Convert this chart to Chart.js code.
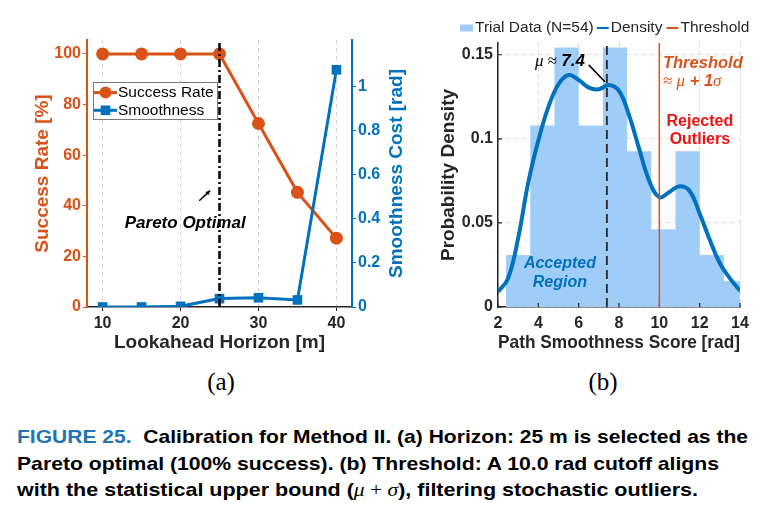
<!DOCTYPE html>
<html>
<head>
<meta charset="utf-8">
<title>Figure 25</title>
<script src="https://cdn.jsdelivr.net/npm/chart.js@4.4.1/dist/chart.umd.min.js"></script>
<style>
  body { margin: 0; background: #fff; }
  #page { position: relative; width: 773px; height: 519px; overflow: hidden; background: #fff; }
  #page canvas { position: absolute; top: 0; }
  #chartA { left: 0; }
  #chartB { left: 400px; }
  .sub { position: absolute; top: 367px; width: 60px; margin-left: -30px; text-align: center; font: 25px/30px "Liberation Serif", serif; color: #000; }
  #caption { position: absolute; left: 17px; top: 424px; font: bold 18.5px/26.5px "Liberation Sans", Arial, sans-serif; color: #000; }
  #caption div { white-space: nowrap; transform-origin: 0 0; width: max-content; }
  #caption .fig { color: #1f75b6; }
  #caption .m { font-family: "Liberation Serif", serif; font-weight: normal; }
</style>
</head>
<body>
<div id="page">
  <canvas id="chartA" width="420" height="360"></canvas>
  <canvas id="chartB" width="373" height="360"></canvas>
  <div class="sub" style="left:221px">(a)</div>
  <div class="sub" style="left:603px">(b)</div>
  <div id="caption">
    <div data-w="731"><span class="fig">FIGURE 25.</span>&nbsp; Calibration for Method II. (a) Horizon: 25 m is selected as the</div>
    <div data-w="702">Pareto optimal (100% success). (b) Threshold: A 10.0 rad cutoff aligns</div>
    <div data-w="681">with the statistical upper bound (<span class="m"><i>μ</i> + <i>σ</i></span>), filtering stochastic outliers.</div>
  </div>
</div>
<script>
// (a) horizon sweep
const horizons = [10, 15, 20, 25, 30, 35, 40];
const successRate = [100, 100, 100, 100, 72.5, 45.3, 27.2];
const smoothCost = [0, 0, 0.003, 0.038, 0.042, 0.032, 1.075];
const paretoHorizon = 25;

// (b) histogram of path smoothness (N=54, bin width 1.2)
const binEdges = [2.4, 3.6, 4.8, 6.0, 7.2, 8.4, 9.6, 10.8, 12.0, 13.2, 14.4];
const binDensity = [0.0309, 0.108, 0.1543, 0.108, 0.1543, 0.0926, 0.0463, 0.0926, 0.0309, 0.0154];
const kdeScore = [2, 2.5, 3, 3.5, 4, 4.5, 5, 5.5, 6, 6.5, 7, 7.5, 8, 8.5, 9, 9.5, 10, 10.5, 11, 11.5, 12, 12.5, 13, 13.5, 14];
const kdeDensity = [0.009, 0.017, 0.041, 0.074, 0.099, 0.119, 0.1325, 0.138, 0.135, 0.1305, 0.1295, 0.132, 0.1285, 0.114, 0.094, 0.075, 0.0653, 0.0684, 0.0718, 0.069, 0.0556, 0.040, 0.026, 0.017, 0.0097];
const meanScore = 7.4;
const thresholdScore = 10;

const ORANGE = "#D95319";
const BLUE = "#0072BD";
const HIST = "#A0CDF8";
const INK = "#262626";
const SANS = '"Liberation Sans", Arial, Helvetica, sans-serif';
const SERIF = '"Liberation Serif", "Times New Roman", serif';

const tickFont = { family: SANS, size: 16, weight: "bold" };
const titleFont = { family: SANS, size: 19, weight: "bold" };

// draw a row of differently styled text pieces
function drawRuns(ctx, runs, x, y, align) {
  let total = 0;
  runs.forEach((r) => {
    ctx.font = r.font;
    r.w = ctx.measureText(r.text).width;
    total += r.w;
  });
  let cx = align === "right" ? x - total : align === "center" ? x - total / 2 : x;
  ctx.textAlign = "left";
  ctx.textBaseline = "middle";
  runs.forEach((r) => {
    ctx.font = r.font;
    ctx.fillText(r.text, cx, y);
    cx += r.w;
  });
}

// ---------- chart (a) ----------
const paretoMarks = {
  id: "paretoMarks",
  afterDatasetsDraw(chart) {
    const { ctx, chartArea: { top, bottom }, scales: { x, y } } = chart;
    const px = x.getPixelForValue(paretoHorizon);
    ctx.save();
    ctx.strokeStyle = "#000";
    ctx.lineWidth = 2.5;
    ctx.setLineDash([8, 3, 2, 3]);
    ctx.beginPath();
    ctx.moveTo(px, bottom);
    ctx.lineTo(px, top);
    ctx.stroke();
    ctx.setLineDash([]);

    ctx.fillStyle = "#000";
    ctx.font = "italic bold 17px " + SANS;
    ctx.textAlign = "center";
    ctx.textBaseline = "middle";
    ctx.fillText("Pareto Optimal", x.getPixelForValue(20.6), y.getPixelForValue(33.2));

    // little arrow pointing at the optimum
    const x0 = x.getPixelForValue(22.4), y0 = y.getPixelForValue(42);
    const x1 = x.getPixelForValue(23.8), y1 = y.getPixelForValue(46);
    const a = Math.atan2(y1 - y0, x1 - x0);
    ctx.lineWidth = 1.5;
    ctx.beginPath();
    ctx.moveTo(x0, y0);
    ctx.lineTo(x1, y1);
    ctx.stroke();
    ctx.beginPath();
    ctx.moveTo(x1, y1);
    ctx.lineTo(x1 - 5 * Math.cos(a - 0.45), y1 - 5 * Math.sin(a - 0.45));
    ctx.lineTo(x1 - 5 * Math.cos(a + 0.45), y1 - 5 * Math.sin(a + 0.45));
    ctx.closePath();
    ctx.fill();
    ctx.restore();
  },
  afterDraw(chart) {
    const { ctx, chartArea: { left, top, bottom } } = chart;
    ctx.save();
    // right axis title, read bottom-to-top like the left one
    const r = chart.scales.y1;
    ctx.translate(r.right - 23, (top + bottom) / 2);
    ctx.rotate(-Math.PI / 2);
    ctx.fillStyle = BLUE;
    ctx.font = "bold 19px " + SANS;
    ctx.textAlign = "center";
    ctx.textBaseline = "middle";
    ctx.fillText("Smoothness Cost [rad]", 0, 0);
    ctx.restore();

    // legend box inside the axes
    const bx = left + 6, by = top + 42, bw = 124, bh = 37;
    ctx.save();
    ctx.fillStyle = "#fff";
    ctx.fillRect(bx, by, bw, bh);
    ctx.strokeStyle = "#7a7a7a";
    ctx.lineWidth = 1;
    ctx.strokeRect(bx + 0.5, by + 0.5, bw, bh);
    chart.data.datasets.forEach((ds, i) => {
      const ry = by + 10.6 + i * 17.7;
      ctx.strokeStyle = ds.borderColor;
      ctx.fillStyle = ds.borderColor;
      ctx.lineWidth = 3;
      ctx.beginPath();
      ctx.moveTo(bx + 1, ry);
      ctx.lineTo(bx + 24, ry);
      ctx.stroke();
      const mx = bx + 12.5;
      ctx.beginPath();
      if (ds.pointStyle === "rect") ctx.rect(mx - 4.8, ry - 4.8, 9.6, 9.6);
      else ctx.arc(mx, ry, 6, 0, Math.PI * 2);
      ctx.fill();
      ctx.fillStyle = "#000";
      ctx.font = "15.5px " + SANS;
      ctx.textAlign = "left";
      ctx.textBaseline = "middle";
      ctx.fillText(ds.label, bx + 25, ry);
    });
    ctx.restore();
  },
};

new Chart(document.getElementById("chartA"), {
  type: "line",
  data: {
    datasets: [
      {
        label: "Success Rate",
        data: horizons.map((h, i) => ({ x: h, y: successRate[i] })),
        yAxisID: "y",
        borderColor: ORANGE,
        backgroundColor: ORANGE,
        borderWidth: 3,
        pointStyle: "circle",
        pointRadius: 6.5,
        pointBorderWidth: 0,
        order: 2,
      },
      {
        label: "Smoothness",
        data: horizons.map((h, i) => ({ x: h, y: smoothCost[i] })),
        yAxisID: "y1",
        borderColor: BLUE,
        backgroundColor: BLUE,
        borderWidth: 3,
        pointStyle: "rect",
        pointRadius: 6.8,
        pointBorderWidth: 0,
        order: 1,
      },
    ],
  },
  plugins: [paretoMarks],
  options: {
    responsive: false,
    animation: false,
    events: [],
    devicePixelRatio: 1,
    layout: { padding: { top: 40, left: 0, right: 0, bottom: 0 } },
    plugins: { legend: { display: false }, tooltip: { enabled: false } },
    scales: {
      x: {
        type: "linear",
        min: 8,
        max: 42,
        afterFit: (s) => { s.height = 53; },
        ticks: { stepSize: 10, includeBounds: false, padding: 3, color: INK, font: tickFont },
        grid: { color: "#d4d4d4", tickColor: INK, tickLength: 4 },
        border: { color: INK, width: 1.5, dash: [4, 4] },
        title: { display: true, text: "Lookahead Horizon [m]", color: INK, font: titleFont, padding: { top: 0, bottom: 5.6 } },
      },
      y: {
        position: "left",
        min: 0,
        max: 105.5,
        afterFit: (s) => { s.width = 87; },
        ticks: { stepSize: 20, includeBounds: false, padding: 2, color: ORANGE, font: tickFont },
        grid: { drawOnChartArea: false, tickColor: ORANGE, tickLength: 4 },
        border: { color: ORANGE, width: 2 },
        title: { display: true, text: "Success Rate [%]", color: ORANGE, font: titleFont, padding: { top: 31, bottom: 0 } },
      },
      y1: {
        position: "right",
        min: 0,
        max: 1.21,
        afterFit: (s) => { s.width = 68; },
        afterBuildTicks: (s) => { s.ticks = s.ticks.filter((t) => t.value <= 1.05); },
        ticks: { stepSize: 0.2, includeBounds: false, padding: 2, color: BLUE, font: tickFont, callback: (v) => String(+v.toFixed(1)) },
        grid: { drawOnChartArea: false, tickColor: BLUE, tickLength: 4 },
        border: { color: BLUE, width: 2 },
        title: { display: false },
      },
    },
  },
});

// ---------- chart (b) ----------
const scoreMarks = {
  id: "scoreMarks",
  afterDatasetsDraw(chart) {
    const { ctx, chartArea: { top, bottom, left }, scales: { x, y } } = chart;
    ctx.save();
    // short inward tick marks on both axes
    ctx.strokeStyle = INK;
    ctx.lineWidth = 1.2;
    ctx.beginPath();
    x.ticks.forEach((t) => {
      const p = x.getPixelForValue(t.value);
      ctx.moveTo(p, bottom);
      ctx.lineTo(p, bottom - 4);
    });
    y.ticks.forEach((t) => {
      const p = y.getPixelForValue(t.value);
      ctx.moveTo(left, p);
      ctx.lineTo(left + 4, p);
    });
    ctx.stroke();

    // threshold
    const tx = x.getPixelForValue(thresholdScore);
    ctx.strokeStyle = ORANGE;
    ctx.lineWidth = 1.5;
    ctx.beginPath();
    ctx.moveTo(tx, bottom);
    ctx.lineTo(tx, top);
    ctx.stroke();
    // mean
    const mx = x.getPixelForValue(meanScore);
    ctx.strokeStyle = "#333";
    ctx.lineWidth = 2;
    ctx.setLineDash([9, 5]);
    ctx.beginPath();
    ctx.moveTo(mx, bottom);
    ctx.lineTo(mx, top);
    ctx.stroke();
    ctx.setLineDash([]);
    // mean label
    ctx.strokeStyle = "#000";
    ctx.lineWidth = 1.5;
    ctx.beginPath();
    ctx.moveTo(x.getPixelForValue(6.5), y.getPixelForValue(0.144));
    ctx.lineTo(x.getPixelForValue(7.3), y.getPixelForValue(0.134));
    ctx.stroke();
    ctx.fillStyle = "#000";
    drawRuns(ctx, [
      { text: "μ", font: "italic 17px " + SERIF },
      { text: " ≈ ", font: "17px " + SERIF },
      { text: "7.4", font: "italic bold 17px " + SANS },
    ], x.getPixelForValue(6.31), y.getPixelForValue(0.1459), "right");

    // threshold label
    ctx.fillStyle = ORANGE;
    drawRuns(ctx, [{ text: "Threshold", font: "italic bold 16.5px " + SANS }],
      x.getPixelForValue(10.18), y.getPixelForValue(0.1449), "left");
    drawRuns(ctx, [
      { text: "≈ ", font: "17px " + SERIF },
      { text: "μ", font: "italic 17px " + SERIF },
      { text: " + 1", font: "italic bold 16.5px " + SANS },
      { text: "σ", font: "italic 17px " + SERIF },
    ], x.getPixelForValue(10.18), y.getPixelForValue(0.134), "left");

    // region labels
    ctx.textAlign = "center";
    ctx.textBaseline = "middle";
    ctx.fillStyle = "#EE1111";
    ctx.font = "bold 16px " + SANS;
    ctx.fillText("Rejected", x.getPixelForValue(12.01), y.getPixelForValue(0.1102));
    ctx.fillText("Outliers", x.getPixelForValue(12.01), y.getPixelForValue(0.0993));
    ctx.fillStyle = BLUE;
    ctx.font = "italic bold 16px " + SANS;
    ctx.fillText("Accepted", x.getPixelForValue(5.07), y.getPixelForValue(0.0256));
    ctx.fillText("Region", x.getPixelForValue(5.07), y.getPixelForValue(0.01445));
    ctx.restore();
  },
  afterDraw(chart) {
    // horizontal legend above the axes
    const { ctx } = chart;
    const ly = 28;
    let cx = 60;
    const hist = chart.data.datasets[1];
    const kde = chart.data.datasets[0];
    ctx.save();
    ctx.font = "15.5px " + SANS;
    ctx.textAlign = "left";
    ctx.textBaseline = "middle";
    ctx.fillStyle = HIST;
    ctx.fillRect(cx, ly - 3.5, 13, 7);
    cx += 15;
    ctx.fillStyle = INK;
    ctx.fillText(hist.label, cx, ly);
    cx += ctx.measureText(hist.label).width + 3;
    [[kde.label, BLUE], ["Threshold", ORANGE]].forEach(([label, color]) => {
      ctx.strokeStyle = color;
      ctx.lineWidth = 2;
      ctx.beginPath();
      ctx.moveTo(cx, ly);
      ctx.lineTo(cx + 12, ly);
      ctx.stroke();
      cx += 14;
      ctx.fillStyle = INK;
      ctx.fillText(label, cx, ly);
      cx += ctx.measureText(label).width + 4;
    });
    ctx.restore();
  },
};

const gridB = { color: "#dadada", drawTicks: false };

new Chart(document.getElementById("chartB"), {
  type: "line",
  data: {
    datasets: [
      {
        label: "Density",
        data: kdeScore.map((s, i) => ({ x: s, y: kdeDensity[i] })),
        borderColor: BLUE,
        borderWidth: 4,
        pointRadius: 0,
        tension: 0.4,
        fill: false,
        order: 1,
      },
      {
        label: "Trial Data (N=54)",
        data: binEdges.map((e, i) => ({ x: e, y: binDensity[Math.min(i, binDensity.length - 1)] })),
        stepped: true,
        borderWidth: 0,
        borderColor: "rgba(0,0,0,0)",
        backgroundColor: HIST,
        pointRadius: 0,
        fill: "origin",
        order: 2,
      },
    ],
  },
  plugins: [scoreMarks],
  options: {
    responsive: false,
    animation: false,
    events: [],
    devicePixelRatio: 1,
    layout: { padding: { top: 43, left: 0, right: 33, bottom: 0 } },
    plugins: { legend: { display: false }, tooltip: { enabled: false } },
    scales: {
      x: {
        type: "linear",
        min: 2,
        max: 14,
        afterFit: (s) => { s.height = 53; },
        ticks: { stepSize: 2, padding: 7, color: INK, font: tickFont },
        grid: gridB,
        border: { color: INK, width: 1.5, dash: [4, 4] },
        title: { display: true, text: "Path Smoothness Score [rad]", color: INK, font: titleFont, padding: { top: 0, bottom: 5.6 } },
      },
      y: {
        min: 0,
        max: 0.157,
        afterFit: (s) => { s.width = 98; },
        ticks: { stepSize: 0.05, includeBounds: false, padding: 5, color: INK, font: tickFont, callback: (v) => String(+v.toFixed(2)) },
        grid: gridB,
        border: { color: INK, width: 1.5, dash: [4, 4] },
        title: { display: true, text: "Probability Density", color: INK, font: titleFont, padding: { top: 37.6, bottom: 0 } },
      },
    },
  },
});

// squeeze caption lines to the printed widths
document.querySelectorAll("#caption div").forEach((d) => {
  const w = d.getBoundingClientRect().width;
  d.style.transform = "scaleX(" + d.dataset.w / w + ")";
});
</script>
</body>
</html>
